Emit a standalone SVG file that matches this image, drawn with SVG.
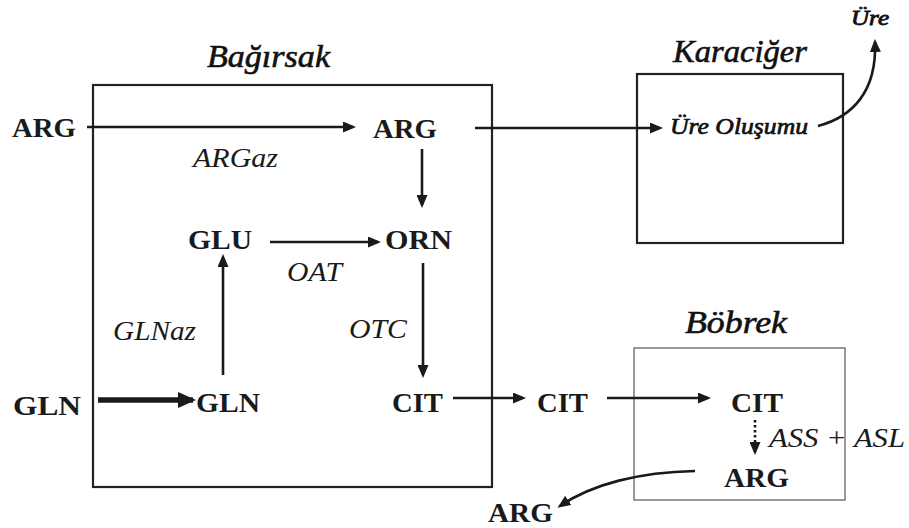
<svg xmlns="http://www.w3.org/2000/svg" width="909" height="528" viewBox="0 0 909 528">
<style>
.box{fill:none;stroke:#222;stroke-width:2.2}
.box2{fill:none;stroke:#777;stroke-width:1.5}
.mol{font-family:"Liberation Serif",serif;font-weight:bold;font-size:27px;fill:#1a1a1a}
.enz{font-family:"Liberation Serif",serif;font-style:italic;font-size:27px;fill:#1a1a1a}
.ttl{font-family:"Liberation Serif",serif;font-style:italic;font-size:31px;fill:#111;stroke:#111;stroke-width:0.6}
.ln{fill:none;stroke:#1a1a1a;stroke-width:2.6}
</style>
<defs>
<marker id="ah" markerUnits="userSpaceOnUse" markerWidth="13" markerHeight="11" refX="10" refY="5.5" orient="auto">
<path d="M0,0 L13,5.5 L0,11 z" fill="#1a1a1a"/>
</marker>
<marker id="ahb" markerUnits="userSpaceOnUse" markerWidth="18" markerHeight="16" refX="15" refY="8" orient="auto">
<path d="M0,0 L18,8 L0,16 z" fill="#1a1a1a"/>
</marker>
</defs>
<g id="bagirsak">
<rect class="box" x="93" y="85" width="399" height="402"/>
<text class="ttl" x="207" y="67" textLength="123" lengthAdjust="spacingAndGlyphs">Bağırsak</text>
</g>
<g id="karaciger">
<rect class="box" x="637" y="74" width="206" height="169"/>
<text class="ttl" x="673" y="62" textLength="134" lengthAdjust="spacingAndGlyphs">Karaciğer</text>
<text class="ttl" x="670" y="134" style="font-size:23px;stroke-width:0.7" textLength="138" lengthAdjust="spacingAndGlyphs">Üre Oluşumu</text>
</g>
<g id="bobrek">
<rect class="box2" x="634" y="348" width="211" height="152"/>
<text class="ttl" x="685" y="333" textLength="102" lengthAdjust="spacingAndGlyphs">Böbrek</text>
</g>
<g id="ure"><text class="ttl" x="851" y="25" style="font-size:21px;stroke-width:0.8" textLength="38" lengthAdjust="spacingAndGlyphs">Üre</text></g>
<g id="arg-in"><text class="mol" x="12" y="137" textLength="64" lengthAdjust="spacingAndGlyphs">ARG</text></g>
<g id="arg-bag"><text class="mol" x="373" y="138" textLength="64" lengthAdjust="spacingAndGlyphs">ARG</text></g>
<g id="glu"><text class="mol" x="188" y="249" textLength="64" lengthAdjust="spacingAndGlyphs">GLU</text></g>
<g id="orn"><text class="mol" x="385" y="249" textLength="67" lengthAdjust="spacingAndGlyphs">ORN</text></g>
<g id="gln-in"><text class="mol" x="13" y="415" textLength="68" lengthAdjust="spacingAndGlyphs">GLN</text></g>
<g id="gln-bag"><text class="mol" x="196" y="412" textLength="64" lengthAdjust="spacingAndGlyphs">GLN</text></g>
<g id="cit-bag"><text class="mol" x="392" y="412" textLength="51" lengthAdjust="spacingAndGlyphs">CIT</text></g>
<g id="cit-mid"><text class="mol" x="537" y="412" textLength="51" lengthAdjust="spacingAndGlyphs">CIT</text></g>
<g id="cit-bob"><text class="mol" x="731" y="412" textLength="52" lengthAdjust="spacingAndGlyphs">CIT</text></g>
<g id="arg-bob"><text class="mol" x="724" y="487" textLength="65" lengthAdjust="spacingAndGlyphs">ARG</text></g>
<g id="arg-out"><text class="mol" x="488" y="522" textLength="65" lengthAdjust="spacingAndGlyphs">ARG</text></g>
<g id="labels">
<text class="enz" x="193" y="167" textLength="85" lengthAdjust="spacingAndGlyphs">ARGaz</text>
<text class="enz" x="287" y="281" textLength="55" lengthAdjust="spacingAndGlyphs">OAT</text>
<text class="enz" x="349" y="338" textLength="58" lengthAdjust="spacingAndGlyphs">OTC</text>
<text class="enz" x="113" y="340" textLength="83" lengthAdjust="spacingAndGlyphs">GLNaz</text>
<text class="enz" x="769" y="447" textLength="136" lengthAdjust="spacingAndGlyphs">ASS + ASL</text>
</g>
<g id="connectors">
<line class="ln" x1="87" y1="127" x2="353" y2="127" marker-end="url(#ah)"/>
<line class="ln" x1="475" y1="128" x2="660" y2="128" marker-end="url(#ah)"/>
<line class="ln" x1="422" y1="149" x2="422" y2="205" marker-end="url(#ah)"/>
<line class="ln" x1="270" y1="242" x2="378" y2="242" marker-end="url(#ah)"/>
<line class="ln" x1="423" y1="263" x2="423" y2="375" marker-end="url(#ah)"/>
<line class="ln" x1="223" y1="375" x2="223" y2="257" marker-end="url(#ah)"/>
<line class="ln" x1="98" y1="400" x2="193" y2="400" style="stroke-width:5.5" marker-end="url(#ahb)"/>
<line class="ln" x1="453" y1="398" x2="523" y2="398" marker-end="url(#ah)"/>
<line class="ln" x1="607" y1="398" x2="708" y2="398" marker-end="url(#ah)"/>
<line class="ln" x1="755" y1="420" x2="755" y2="452" style="stroke-dasharray:2.5,2.5" marker-end="url(#ah)"/>
<path class="ln" d="M818,126 C852,117 877,92 875,42" marker-end="url(#ah)"/>
<path class="ln" d="M695,471 C640,472 592,484 560,506" marker-end="url(#ah)"/>
</g>
</svg>
